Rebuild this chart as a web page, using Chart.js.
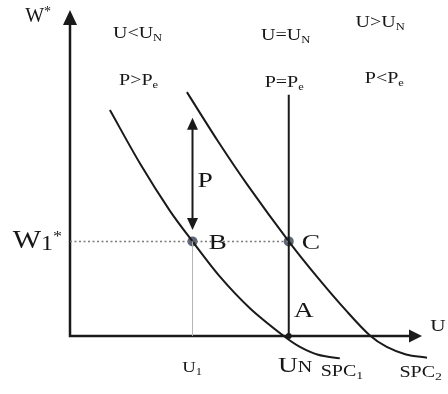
<!DOCTYPE html>
<html>
<head>
<meta charset="utf-8">
<script src="https://cdn.jsdelivr.net/npm/chart.js@4.4.0/dist/chart.umd.min.js"></script>
<style>
  html, body { margin: 0; padding: 0; background: #fff; }
</style>
</head>
<body>
<canvas id="chart" width="448" height="394"></canvas>
<script>
// short-run Phillips curves (x = unemployment U, y = wage inflation W*)
const spc1X = [11.4, 20, 28.6, 35, 42.9, 51.4, 60.9, 65.7, 70.9, 77.1];
const spc1Y = [69.3, 52.9, 38.3, 29, 18.1, 8.5, 0.1, -3.4, -5.8, -6.9];
const spc2X = [33.4, 42, 50.6, 62.5, 70.6, 79.1, 85.7, 90.5, 96, 102];
const spc2Y = [74.8, 60.2, 46.5, 29, 18.1, 7.5, 0.1, -3.4, -5.7, -6.7];

const uN = 62.5;        // natural rate U_N
const u1 = 35;          // U_1
const w1 = 29;          // W1*
const lrpcTop = 74;     // top of the vertical line at U_N
const pArrow = [66.9, 32.5];
const axisXEnd = 100;
const axisYEnd = 100;

const toPts = (xs, ys) => xs.map((x, i) => ({ x: x, y: ys[i] }));
const ink = '#1a1a1a';

const labels = [
    { x: -9.1, y: 98.2, parts: [['W', 20], ['*', 14, -6]], sx: 1 },
    { x: -9.3, y: 29.4, parts: [['W', 25], ['1', 20, 2], ['*', 15, -7]], sx: 1.2 },
    { x: 19.3, y: 92.9, parts: [['U<U', 16], ['N', 10, 3]] },
    { x: 19.6, y: 78.5, parts: [['P>P', 16], ['e', 10, 3]] },
    { x: 61.6, y: 92.3, parts: [['U=U', 16], ['N', 10, 3]] },
    { x: 61.2, y: 77.9, parts: [['P=P', 16], ['e', 10, 3]] },
    { x: 88.6, y: 96.3, parts: [['U>U', 16], ['N', 10, 3]] },
    { x: 89.8, y: 79.1, parts: [['P<P', 16], ['e', 10, 3]] },
    { x: 38.6, y: 47.9, parts: [['P', 22]] },
    { x: 42.2, y: 28.8, parts: [['B', 22]] },
    { x: 68.8, y: 28.8, parts: [['C', 22]] },
    { x: 66.8, y: 8, parts: [['A', 22]] },
    { x: 64.3, y: -8.9, parts: [['U', 22], ['N', 16]] },
    { x: 77.7, y: -10.7, parts: [['SPC', 16], ['1', 11, 3]] },
    { x: 100.2, y: -11, parts: [['SPC', 16], ['2', 11, 3]] },
    { x: 34.9, y: -9.5, parts: [['U', 15], ['1', 10, 3]] },
    { x: 105.1, y: 3.1, parts: [['U', 17]] }
];

function drawHead(ctx, tx, ty, dir, len, half) {
    ctx.beginPath();
    if (dir === 'up') { ctx.moveTo(tx, ty); ctx.lineTo(tx - half, ty + len); ctx.lineTo(tx + half, ty + len); }
    if (dir === 'down') { ctx.moveTo(tx, ty); ctx.lineTo(tx - half, ty - len); ctx.lineTo(tx + half, ty - len); }
    if (dir === 'right') { ctx.moveTo(tx, ty); ctx.lineTo(tx - len, ty - half); ctx.lineTo(tx - len, ty + half); }
    ctx.closePath();
    ctx.fill();
}

const decor = {
    id: 'decor',
    afterDatasetsDraw(chart) {
        const ctx = chart.ctx;
        const xs = chart.scales.x, ys = chart.scales.y;
        ctx.save();
        ctx.fillStyle = ink;
        // arrow heads
        drawHead(ctx, xs.getPixelForValue(0), ys.getPixelForValue(axisYEnd), 'up', 15, 7);
        drawHead(ctx, xs.getPixelForValue(axisXEnd) + 2, ys.getPixelForValue(0), 'right', 13, 6.5);
        drawHead(ctx, xs.getPixelForValue(u1), ys.getPixelForValue(pArrow[0]), 'up', 12, 5.5);
        drawHead(ctx, xs.getPixelForValue(u1), ys.getPixelForValue(pArrow[1]), 'down', 12, 5.5);

        // text
        ctx.textBaseline = 'alphabetic';
        ctx.fillStyle = '#161616';
        labels.forEach(lab => {
            const sx = lab.sx || 1.25;
            let w = 0;
            lab.parts.forEach(p => {
                ctx.font = p[1] + 'px "Liberation Serif", serif';
                w += ctx.measureText(p[0]).width;
            });
            const cx = xs.getPixelForValue(lab.x);
            const base = ys.getPixelForValue(lab.y) + lab.parts[0][1] * 0.33;
            ctx.save();
            ctx.translate(cx - w * sx / 2, base);
            ctx.scale(sx, 1);
            let x = 0;
            lab.parts.forEach(p => {
                ctx.font = p[1] + 'px "Liberation Serif", serif';
                ctx.fillText(p[0], x, p[2] || 0);
                x += ctx.measureText(p[0]).width;
            });
            ctx.restore();
        });
        ctx.restore();
    }
};

new Chart(document.getElementById('chart'), {
    type: 'scatter',
    data: {
        datasets: [
            {   // dotted W1* guide
                data: [{ x: 0, y: w1 }, { x: uN, y: w1 }],
                showLine: true, borderColor: '#7a7a7a', borderWidth: 1.5,
                borderDash: [2, 2.5], pointRadius: 0
            },
            {   // thin U1 guide
                data: [{ x: u1, y: 0 }, { x: u1, y: w1 }],
                showLine: true, borderColor: '#b5b5b5', borderWidth: 1, pointRadius: 0
            },
            {   // axes
                data: [{ x: 0, y: axisYEnd - 3 }, { x: 0, y: 0 }, { x: axisXEnd - 2, y: 0 }],
                showLine: true, borderColor: ink, borderWidth: 2.5, pointRadius: 0
            },
            {   // vertical line at U_N
                data: [{ x: uN, y: 0 }, { x: uN, y: lrpcTop }],
                showLine: true, borderColor: ink, borderWidth: 2, pointRadius: 0
            },
            {   // P arrow shaft
                data: [{ x: u1, y: pArrow[0] - 2 }, { x: u1, y: pArrow[1] + 2 }],
                showLine: true, borderColor: ink, borderWidth: 2, pointRadius: 0
            },
            {
                label: 'SPC1',
                data: toPts(spc1X, spc1Y),
                showLine: true, tension: 0.3,
                borderColor: ink, borderWidth: 2, pointRadius: 0
            },
            {
                label: 'SPC2',
                data: toPts(spc2X, spc2Y),
                showLine: true, tension: 0.3,
                borderColor: ink, borderWidth: 2, pointRadius: 0
            },
            {   // points B and C
                data: [{ x: u1, y: w1 }, { x: uN, y: w1 }],
                showLine: false, pointRadius: 5, pointBackgroundColor: '#5d6577',
                pointBorderWidth: 0
            },
            {   // point A
                data: [{ x: uN, y: 0 }],
                showLine: false, pointRadius: 3, pointBackgroundColor: ink, pointBorderWidth: 0
            }
        ]
    },
    options: {
        responsive: false,
        animation: false,
        devicePixelRatio: 1,
        clip: false,
        layout: { padding: { left: 70, right: 14, top: 10, bottom: 19 } },
        scales: {
            x: { type: 'linear', min: 0, max: 104, display: false },
            y: { type: 'linear', min: -12, max: 100, display: false }
        },
        plugins: { legend: { display: false }, tooltip: { enabled: false } }
    },
    plugins: [decor]
});
</script>
</body>
</html>
